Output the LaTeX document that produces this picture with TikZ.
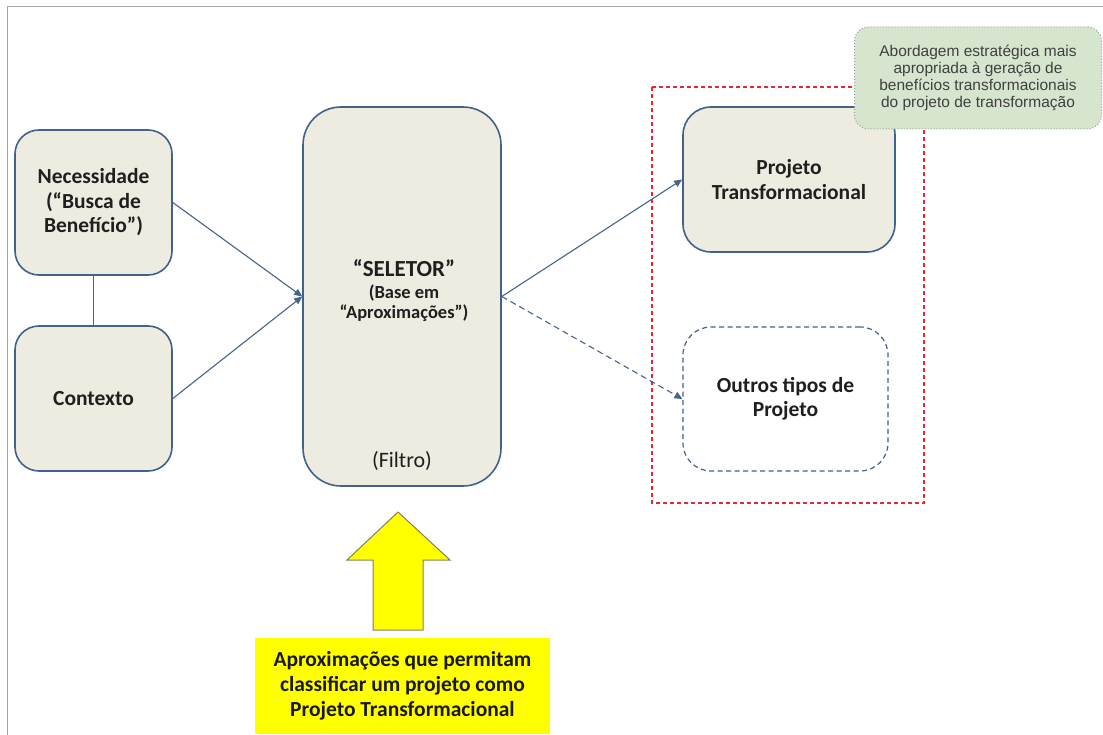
\documentclass[tikz,border=0pt]{standalone}
\usepackage{fontspec}
\setmainfont{Carlito}
\newfontfamily\notefont{Liberation Sans}
\usetikzlibrary{arrows.meta}
\definecolor{boxline}{RGB}{65,98,140}
\definecolor{boxfill}{RGB}{238,236,225}
\definecolor{arrowc}{RGB}{70,100,140}
\definecolor{notefill}{RGB}{214,230,206}
\definecolor{noteline}{RGB}{150,160,150}
\definecolor{notetext}{RGB}{64,64,64}
\definecolor{redd}{RGB}{230,40,50}
\definecolor{yel}{RGB}{255,255,0}
\begin{document}
\begin{tikzpicture}[x=1pt,y=-1pt,
  bbox/.style={draw=boxline,line width=1.6pt,fill=boxfill,rounded corners=24pt,align=center,inner sep=0pt,font=\fontsize{21.5}{24.5}\selectfont\bfseries,text=black!88},
  conn/.style={draw=arrowc,line width=1.1pt,-{Triangle[length=8pt,width=7pt]}},
  ]
\useasboundingbox (0,0) rectangle (1103,735);
\fill[white] (0,0) rectangle (1103,735);
% page frame
\draw[gray!70,line width=1pt] (7,735) -- (7,7) -- (1103,7);
% red dashed group
\draw[redd,line width=1.2pt,dash pattern=on 4pt off 3pt] (652,87) rectangle (924,503);
% nodes
\node[bbox,minimum width=157pt,minimum height=145pt] (nec) at (93.5,202.5) {Necessidade\\(“Busca de\\Benefício”)};
\node[bbox,minimum width=157pt,minimum height=145pt] (ctx) at (93.5,398.5) {Contexto};
\node[bbox,minimum width=198pt,minimum height=379pt,rounded corners=38pt] (sel) at (402,296.5) {};
\node[text=black!88,align=center,inner sep=0pt,font=\fontsize{18.5}{20}\selectfont\bfseries] (seltxt) at (404,291) {{\fontsize{23}{20}\selectfont “SELETOR”}\\[2pt](Base em\\“Aproximações”)};
\node[font=\fontsize{22}{24}\selectfont,text=black!88] (filtro) at (402,461) {(Filtro)};
\node[bbox,minimum width=212pt,minimum height=145pt,rounded corners=28pt] (proj) at (789,179.5) {Projeto\\Transformacional};
\node[bbox,fill=white,dash pattern=on 5pt off 3.5pt,line width=1.2pt,minimum width=205pt,minimum height=144pt,rounded corners=28pt] (out) at (785.5,399) {Outros tipos de\\Projeto};
% note
\node[draw=noteline,fill=notefill,dotted,line width=1pt,rounded corners=14pt,minimum width=247pt,minimum height=102pt,align=center,font=\notefont\fontsize{15.5}{17}\selectfont,text=notetext,inner sep=0pt] (note) at (978,78) {Abordagem estratégica mais\\apropriada à geração de\\benefícios transformacionais\\do projeto de transformação};
% connectors
\draw[boxline,line width=1.6pt] (nec.south) -- (ctx.north);
\draw[conn] (nec.east) -- (sel.west);
\draw[conn] (ctx.east) -- (sel.west);
\draw[conn] (sel.east) -- (proj.west);
\draw[conn,dash pattern=on 6pt off 4pt] (sel.east) -- (out.west);
% yellow arrow
\draw[fill=yel,draw=black!60!yellow!60!gray,line width=1pt] (398,512) -- (450,560) -- (423,560) -- (423,630) -- (373,630) -- (373,560) -- (347,560) -- cycle;
\node[fill=yel,minimum width=295pt,minimum height=96pt,align=center,inner sep=0pt,font=\fontsize{21.5}{25}\selectfont\bfseries,text=black!90] (yb) at (402.5,686) {Aproximações que permitam\\classificar um projeto como\\Projeto Transformacional};
\end{tikzpicture}
\end{document}
